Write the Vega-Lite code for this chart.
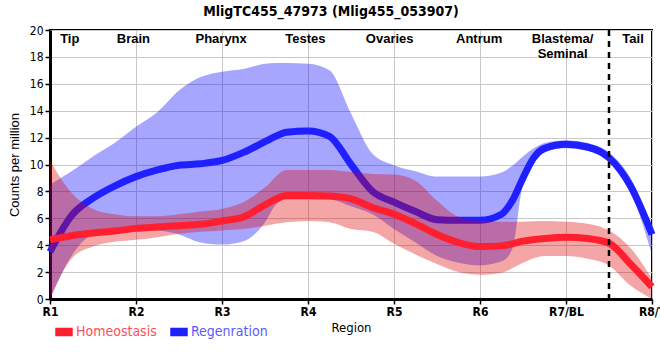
{
  "$schema": "https://vega.github.io/schema/vega-lite/v6.json",
  "width": 602,
  "height": 269,
  "autosize": {"type": "none"},
  "padding": {"left": 50, "top": 30, "right": 8, "bottom": 61},
  "background": "white",
  "title": {"text": "MligTC455_47973 (Mlig455_053907)", "font": "Liberation Sans Narrow, DejaVu Sans Condensed, sans-serif", "fontSize": 14, "fontWeight": "bold", "color": "black", "anchor": "middle", "dx": -20, "offset": 5},
  "datasets": {
    "series": [
      {"g": "Regenration", "r": 1.0, "m": 3.5, "lo": 0, "hi": 8.5},
      {"g": "Regenration", "r": 1.25, "m": 6.2, "lo": 3.2, "hi": 9.5},
      {"g": "Regenration", "r": 1.5, "m": 7.5, "lo": 4.8, "hi": 10.6},
      {"g": "Regenration", "r": 1.75, "m": 8.4, "lo": 5.05, "hi": 11.6},
      {"g": "Regenration", "r": 2.0, "m": 9.1, "lo": 5.15, "hi": 12.8},
      {"g": "Regenration", "r": 2.25, "m": 9.6, "lo": 5.1, "hi": 13.9},
      {"g": "Regenration", "r": 2.5, "m": 9.95, "lo": 4.8, "hi": 15.5},
      {"g": "Regenration", "r": 2.75, "m": 10.05, "lo": 4.2, "hi": 16.5},
      {"g": "Regenration", "r": 3.0, "m": 10.3, "lo": 4.05, "hi": 16.9},
      {"g": "Regenration", "r": 3.25, "m": 10.9, "lo": 4.3, "hi": 17.1},
      {"g": "Regenration", "r": 3.5, "m": 11.7, "lo": 5.7, "hi": 17.5},
      {"g": "Regenration", "r": 3.625, "m": 12.1, "lo": 7.0, "hi": 17.55},
      {"g": "Regenration", "r": 3.75, "m": 12.4, "lo": 7.4, "hi": 17.55},
      {"g": "Regenration", "r": 4.0, "m": 12.5, "lo": 7.4, "hi": 17.5},
      {"g": "Regenration", "r": 4.25, "m": 12.1, "lo": 7.4, "hi": 17.0},
      {"g": "Regenration", "r": 4.5, "m": 10.0, "lo": 6.9, "hi": 13.8},
      {"g": "Regenration", "r": 4.75, "m": 8.0, "lo": 6.3, "hi": 10.8},
      {"g": "Regenration", "r": 5.0, "m": 7.2, "lo": 5.2, "hi": 9.95},
      {"g": "Regenration", "r": 5.25, "m": 6.5, "lo": 4.2, "hi": 9.5},
      {"g": "Regenration", "r": 5.5, "m": 5.9, "lo": 3.2, "hi": 9.1},
      {"g": "Regenration", "r": 5.75, "m": 5.85, "lo": 2.7, "hi": 9.1},
      {"g": "Regenration", "r": 6.0, "m": 5.85, "lo": 2.5, "hi": 9.1},
      {"g": "Regenration", "r": 6.25, "m": 6.3, "lo": 2.8, "hi": 9.4},
      {"g": "Regenration", "r": 6.375, "m": 7.3, "lo": 3.7, "hi": 9.9},
      {"g": "Regenration", "r": 6.5, "m": 9.0, "lo": 8.6, "hi": 10.6},
      {"g": "Regenration", "r": 6.625, "m": 10.5, "lo": 10.1, "hi": 11.2},
      {"g": "Regenration", "r": 6.75, "m": 11.2, "lo": 10.9, "hi": 11.6},
      {"g": "Regenration", "r": 7.0, "m": 11.5, "lo": 11.2, "hi": 11.8},
      {"g": "Regenration", "r": 7.25, "m": 11.3, "lo": 11.0, "hi": 11.6},
      {"g": "Regenration", "r": 7.5, "m": 10.5, "lo": 10.2, "hi": 10.9},
      {"g": "Regenration", "r": 7.75, "m": 8.4, "lo": 8.0, "hi": 9.0},
      {"g": "Regenration", "r": 8.0, "m": 4.8, "lo": 3.3, "hi": 5.3},
      {"g": "Homeostasis", "r": 1.0, "m": 4.4, "lo": 0, "hi": 10.3},
      {"g": "Homeostasis", "r": 1.25, "m": 4.7, "lo": 3.0, "hi": 7.9},
      {"g": "Homeostasis", "r": 1.5, "m": 4.9, "lo": 3.9, "hi": 6.7},
      {"g": "Homeostasis", "r": 1.75, "m": 5.05, "lo": 4.25, "hi": 6.3},
      {"g": "Homeostasis", "r": 2.0, "m": 5.25, "lo": 4.4, "hi": 6.15},
      {"g": "Homeostasis", "r": 2.25, "m": 5.35, "lo": 4.6, "hi": 6.15},
      {"g": "Homeostasis", "r": 2.5, "m": 5.45, "lo": 4.85, "hi": 6.3},
      {"g": "Homeostasis", "r": 2.75, "m": 5.55, "lo": 5.0, "hi": 6.5},
      {"g": "Homeostasis", "r": 3.0, "m": 5.8, "lo": 5.1, "hi": 6.7},
      {"g": "Homeostasis", "r": 3.25, "m": 6.1, "lo": 5.2, "hi": 7.2},
      {"g": "Homeostasis", "r": 3.5, "m": 7.0, "lo": 5.45, "hi": 8.3},
      {"g": "Homeostasis", "r": 3.75, "m": 7.7, "lo": 5.7, "hi": 9.6},
      {"g": "Homeostasis", "r": 4.0, "m": 7.7, "lo": 5.8, "hi": 9.6},
      {"g": "Homeostasis", "r": 4.25, "m": 7.65, "lo": 5.7, "hi": 9.6},
      {"g": "Homeostasis", "r": 4.5, "m": 7.45, "lo": 5.2, "hi": 9.45},
      {"g": "Homeostasis", "r": 4.75, "m": 6.8, "lo": 5.0, "hi": 9.3},
      {"g": "Homeostasis", "r": 5.0, "m": 6.3, "lo": 4.1, "hi": 9.25},
      {"g": "Homeostasis", "r": 5.25, "m": 5.6, "lo": 3.3, "hi": 8.8},
      {"g": "Homeostasis", "r": 5.5, "m": 4.8, "lo": 2.6, "hi": 7.3},
      {"g": "Homeostasis", "r": 5.75, "m": 4.2, "lo": 2.0, "hi": 6.1},
      {"g": "Homeostasis", "r": 6.0, "m": 3.9, "lo": 1.8, "hi": 5.8},
      {"g": "Homeostasis", "r": 6.25, "m": 3.95, "lo": 1.95, "hi": 5.75},
      {"g": "Homeostasis", "r": 6.5, "m": 4.3, "lo": 2.7, "hi": 5.75},
      {"g": "Homeostasis", "r": 6.75, "m": 4.5, "lo": 3.2, "hi": 5.8},
      {"g": "Homeostasis", "r": 7.0, "m": 4.6, "lo": 3.2, "hi": 5.75},
      {"g": "Homeostasis", "r": 7.25, "m": 4.5, "lo": 3.0, "hi": 5.6},
      {"g": "Homeostasis", "r": 7.5, "m": 4.15, "lo": 2.5, "hi": 5.1},
      {"g": "Homeostasis", "r": 7.75, "m": 2.6, "lo": 1.0, "hi": 3.8},
      {"g": "Homeostasis", "r": 8.0, "m": 0.9, "lo": 0, "hi": 1.5}
    ],
    "regions": [
      {"label": "Tip", "r": 1.23, "y": 19.75},
      {"label": "Brain", "r": 1.97, "y": 19.75},
      {"label": "Pharynx", "r": 2.99, "y": 19.75},
      {"label": "Testes", "r": 3.97, "y": 19.75},
      {"label": "Ovaries", "r": 4.95, "y": 19.75},
      {"label": "Antrum", "r": 5.99, "y": 19.75},
      {"label": "Blastema/\nSeminal", "r": 6.96, "y": 19.75},
      {"label": "Tail", "r": 7.78, "y": 19.75}
    ],
    "cut": [{"r": 7.5}]
  },
  "encoding": {
    "x": {
      "field": "r", "type": "quantitative",
      "scale": {"domain": [1, 8], "nice": false, "zero": false},
      "axis": {
        "values": [1, 2, 3, 4, 5, 6, 7, 8],
        "labelExpr": "['R1','R2','R3','R4','R5','R6','R7/BL','R8/T'][datum.value - 1]",
        "title": "Region",
        "labelFont": "Liberation Sans Narrow, DejaVu Sans Condensed, sans-serif",
        "labelFontSize": 12, "labelFontWeight": "bold", "labelPadding": 2,
        "labelFlush": false, "labelOverlap": false,
        "titleFont": "Liberation Sans Narrow, DejaVu Sans Condensed, sans-serif",
        "titleFontSize": 13, "titleFontWeight": "normal", "titlePadding": 4
      }
    }
  },
  "layer": [
    {
      "data": {"name": "series"},
      "transform": [{"filter": "datum.g === 'Regenration'"}],
      "mark": {"type": "area", "interpolate": "monotone", "color": "#0000ff", "opacity": 0.35},
      "encoding": {
        "y": {"field": "lo", "type": "quantitative", "scale": {"domain": [0, 20], "nice": false},
          "axis": {"values": [0, 2, 4, 6, 8, 10, 12, 14, 16, 18, 20], "labelOverlap": false, "title": "Counts per million",
            "labelFont": "Liberation Sans Narrow, DejaVu Sans Condensed, sans-serif", "labelFontSize": 12,
            "titleFont": "Liberation Sans, Arial, sans-serif", "titleFontSize": 13, "titleFontWeight": "normal", "titlePadding": 8}},
        "y2": {"field": "hi"}
      }
    },
    {
      "data": {"name": "series"},
      "transform": [{"filter": "datum.g === 'Regenration'"}],
      "mark": {"type": "line", "interpolate": "monotone", "strokeWidth": 7},
      "encoding": {
        "y": {"field": "m", "type": "quantitative",
          "axis": {"values": [0, 2, 4, 6, 8, 10, 12, 14, 16, 18, 20], "labelOverlap": false, "title": "Counts per million",
            "labelFont": "Liberation Sans Narrow, DejaVu Sans Condensed, sans-serif", "labelFontSize": 12,
            "titleFont": "Liberation Sans, Arial, sans-serif", "titleFontSize": 13, "titleFontWeight": "normal", "titlePadding": 8}},
        "color": {"field": "g", "type": "nominal",
          "scale": {"domain": ["Homeostasis", "Regenration"], "range": ["#ff1f2f", "#1f1fff"]},
          "legend": {
            "orient": "none", "direction": "horizontal", "legendX": 5, "legendY": 293,
            "title": null, "padding": 0,
            "symbolType": "M-1,-0.45L1,-0.45L1,0.45L-1,0.45Z", "symbolSize": 256,
            "labelFont": "Liberation Sans Narrow, DejaVu Sans Condensed, sans-serif", "labelFontSize": 14,
            "labelOffset": 3, "columnPadding": 11,
            "encode": {
              "symbols": {"update": {"fill": {"scale": "color", "field": "value"}, "stroke": {"value": "transparent"}, "opacity": {"value": 1}}},
              "labels": {"update": {"fill": {"signal": "datum.value === 'Homeostasis' ? '#ff4d5a' : '#5a5aff'"}}}
            }
          }
        }
      }
    },
    {
      "data": {"name": "series"},
      "transform": [{"filter": "datum.g === 'Homeostasis'"}],
      "mark": {"type": "area", "interpolate": "monotone", "color": "#e00000", "opacity": 0.35},
      "encoding": {
        "y": {"field": "lo", "type": "quantitative",
          "axis": {"values": [0, 2, 4, 6, 8, 10, 12, 14, 16, 18, 20], "labelOverlap": false, "title": "Counts per million",
            "labelFont": "Liberation Sans Narrow, DejaVu Sans Condensed, sans-serif", "labelFontSize": 12,
            "titleFont": "Liberation Sans, Arial, sans-serif", "titleFontSize": 13, "titleFontWeight": "normal", "titlePadding": 8}},
        "y2": {"field": "hi"}
      }
    },
    {
      "data": {"name": "series"},
      "transform": [{"filter": "datum.g === 'Homeostasis'"}],
      "mark": {"type": "line", "interpolate": "monotone", "strokeWidth": 7},
      "encoding": {
        "y": {"field": "m", "type": "quantitative",
          "axis": {"values": [0, 2, 4, 6, 8, 10, 12, 14, 16, 18, 20], "labelOverlap": false, "title": "Counts per million",
            "labelFont": "Liberation Sans Narrow, DejaVu Sans Condensed, sans-serif", "labelFontSize": 12,
            "titleFont": "Liberation Sans, Arial, sans-serif", "titleFontSize": 13, "titleFontWeight": "normal", "titlePadding": 8}},
        "color": {"field": "g", "type": "nominal"}
      }
    },
    {
      "data": {"name": "cut"},
      "mark": {"type": "rule", "color": "black", "strokeWidth": 2.5, "strokeDash": [6, 5]},
      "encoding": {}
    },
    {
      "data": {"name": "regions"},
      "mark": {"type": "text", "font": "Liberation Sans, Arial, sans-serif", "fontSize": 13, "fontWeight": "bold", "color": "black", "baseline": "top", "align": "center", "lineBreak": "\n", "lineHeight": 15},
      "encoding": {
        "y": {"field": "y", "type": "quantitative",
          "axis": {"values": [0, 2, 4, 6, 8, 10, 12, 14, 16, 18, 20], "labelOverlap": false, "title": "Counts per million",
            "labelFont": "Liberation Sans Narrow, DejaVu Sans Condensed, sans-serif", "labelFontSize": 12,
            "titleFont": "Liberation Sans, Arial, sans-serif", "titleFontSize": 13, "titleFontWeight": "normal", "titlePadding": 8}},
        "text": {"field": "label"}
      }
    }
  ],
  "config": {
    "view": {"stroke": "black", "strokeWidth": 2},
    "axis": {"grid": true, "gridColor": "#c8c8c8", "gridWidth": 1, "domainColor": "black", "domainWidth": 3, "tickColor": "black", "tickSize": 5, "tickWidth": 1.5, "labelColor": "black", "titleColor": "black"}
  }
}
